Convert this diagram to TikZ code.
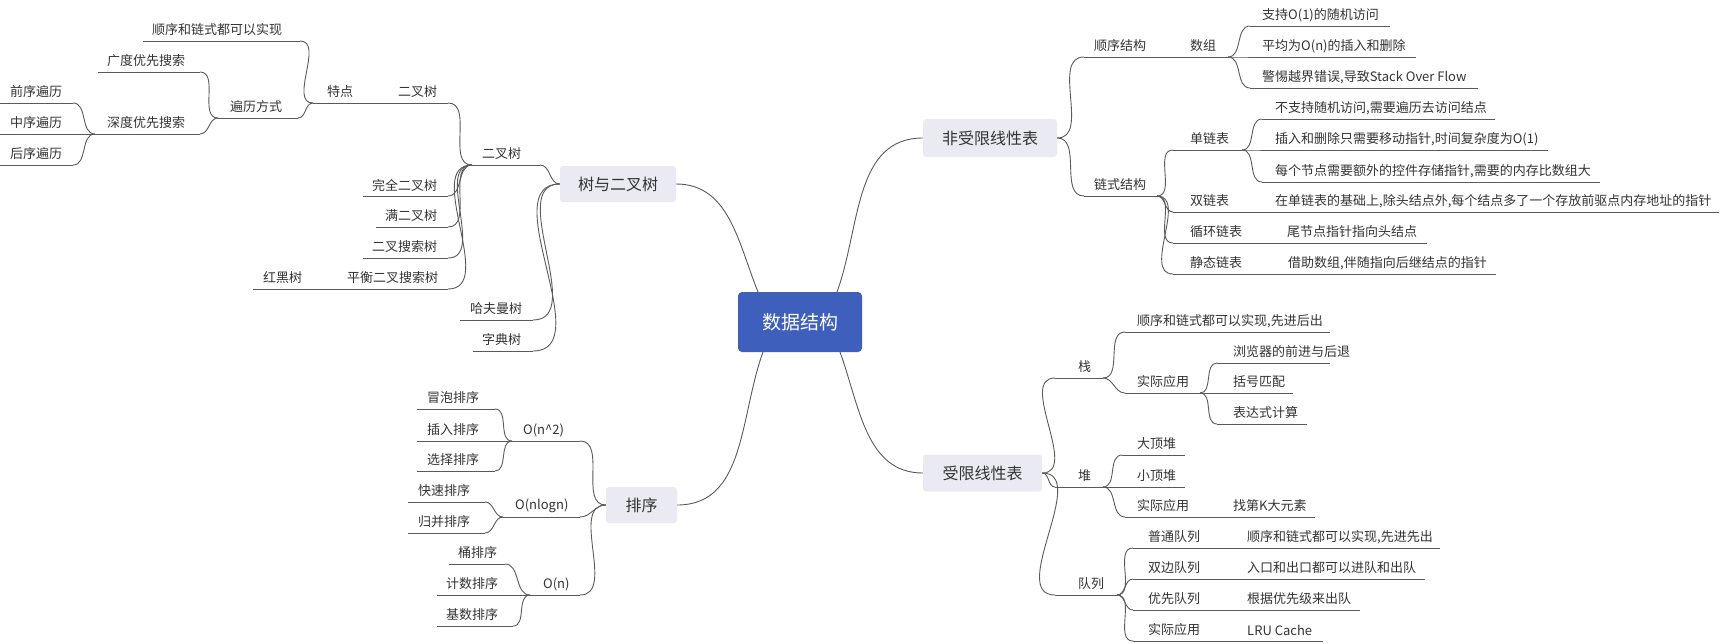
\documentclass[tikz,border=0pt]{standalone}
\usepackage{fontspec}
\setmainfont{Noto Sans CJK SC}
\definecolor{ln}{HTML}{5A5A5A}
\definecolor{tx}{HTML}{333333}
\definecolor{boxg}{HTML}{EAEAF2}
\definecolor{boxb}{HTML}{3F5FBD}
\tikzset{
 lnst/.style={draw=ln,line width=0.9pt},
 txt/.style={anchor=west,inner sep=0pt,text=tx,font=\fontsize{13}{13}\selectfont},
 mainbox/.style={fill=boxg,rounded corners=3pt,text=tx,font=\fontsize{16}{16}\selectfont,inner sep=0pt},
 rr/.style={lnst,out=0,in=180},
 ll/.style={lnst,out=180,in=0},
}
\newcommand\tp[6]{%
 \coordinate (#1-l) at (#2,#4); \coordinate (#1-r) at (#3,#4);
 \draw[lnst] (#1-l) -- (#1-r);
 \node[txt] (#1) at (#5,#4-11) {#6};}
\begin{document}
\begin{tikzpicture}[x=1pt,y=-1pt]
\useasboundingbox (0,0) rectangle (1720,643);
% center
\node[fill=boxb,rounded corners=4pt,minimum width=124pt,minimum height=60pt,text=white,font=\fontsize{19}{19}\selectfont] (ds) at (800,322) {数据结构};
\node[mainbox,minimum width=116pt,minimum height=36pt] (tree) at (618,184) {树与二叉树};
\node[mainbox,minimum width=71pt,minimum height=36pt] (sort) at (641.5,505) {排序};
\node[mainbox,minimum width=134pt,minimum height=38pt] (fsx) at (990,138) {非受限线性表};
\node[mainbox,minimum width=119pt,minimum height=37pt] (sx) at (982.5,473) {受限线性表};
\coordinate (c1) at (758,292); \coordinate (c2) at (837,292);
\coordinate (c3) at (763,352); \coordinate (c4) at (840,352);
\draw[lnst] (tree.east) to[out=0,in=112] (c1);
\draw[lnst] (sort.east) to[out=0,in=-110] (c3);
\draw[lnst] (fsx.west) to[out=180,in=70] (c2);
\draw[lnst] (sx.west) to[out=180,in=-70] (c4);
% tree
\tp{bt}{472}{540}{165}{482}{二叉树}
\tp{hfm}{460}{533}{320}{470}{哈夫曼树}
\tp{zd}{473}{533}{351}{482}{字典树}
\tp{btt}{380}{448}{103}{398}{二叉树}
\tp{td}{313}{380}{103}{327}{特点}
\tp{wq}{363}{448}{196}{372}{完全二叉树}
\tp{man}{376}{448}{227}{385}{满二叉树}
\tp{bst}{363}{448}{258}{372}{二叉搜索树}
\tp{avl}{335}{448}{289}{347}{平衡二叉搜索树}
\tp{rb}{253}{335}{289}{263}{红黑树}
\tp{sxl}{143}{300}{41}{152}{顺序和链式都可以实现}
\tp{bl}{218}{298}{118}{230}{遍历方式}
\tp{gd}{98}{200}{72}{107}{广度优先搜索}
\tp{sd}{95}{200}{134}{107}{深度优先搜索}
\tp{qx}{0}{73}{103}{10}{前序遍历}
\tp{zx}{0}{95}{134}{10}{中序遍历}
\tp{hx}{0}{73}{165}{10}{后序遍历}
\foreach \c in {bt,hfm,zd} \draw[ll] (tree.west) to (\c-r);
\foreach \c in {btt,wq,man,bst,avl} \draw[ll] (bt-l) to (\c-r);
\foreach \c in {sxl,bl} \draw[ll] (td-l) to (\c-r);
\foreach \c in {gd,sd} \draw[ll] (bl-l) to (\c-r);
\foreach \c in {qx,hx} \draw[ll] (sd-l) to (\c-r);
% sort
\tp{otwo}{512}{580}{441}{523}{O(n\textasciicircum 2)}
\tp{onl}{503}{580}{517}{515}{O(nlogn)}
\tp{on}{530}{580}{595}{543}{O(n)}
\tp{mp}{417}{495}{409}{427}{冒泡排序}
\tp{cr}{417}{512}{441}{427}{插入排序}
\tp{xz}{417}{495}{471}{427}{选择排序}
\tp{ks}{408}{485}{502}{418}{快速排序}
\tp{gb}{408}{485}{533}{418}{归并排序}
\tp{tong}{449}{505}{564}{458}{桶排序}
\tp{js}{437}{530}{595}{446}{计数排序}
\tp{jsu}{437}{513}{626}{446}{基数排序}
\foreach \c in {otwo,onl,on} \draw[ll] (sort.west) to (\c-r);
\foreach \c in {mp,xz} \draw[ll] (otwo-l) to (\c-r);
\foreach \c in {ks,gb} \draw[ll] (onl-l) to (\c-r);
\foreach \c in {tong,jsu} \draw[ll] (on-l) to (\c-r);
% non-limited
\tp{sxjg}{1084}{1160}{57}{1094}{顺序结构}
\tp{sz}{1160}{1228}{57}{1190}{数组}
\tp{lsjg}{1084}{1157}{196}{1094}{链式结构}
\tp{aone}{1250}{1390}{26}{1262}{支持O(1)的随机访问}
\tp{atwo}{1250}{1416}{57}{1262}{平均为O(n)的插入和删除}
\tp{athree}{1250}{1478}{88}{1262}{警惕越界错误,导致Stack Over Flow}
\tp{dlb}{1173}{1242}{150}{1190}{单链表}
\tp{sone}{1262}{1495}{119}{1275}{不支持随机访问,需要遍历去访问结点}
\tp{stwo}{1262}{1548}{150}{1275}{插入和删除只需要移动指针,时间复杂度为O(1)}
\tp{sthree}{1262}{1600}{182}{1275}{每个节点需要额外的控件存储指针,需要的内存比数组大}
\tp{slb}{1173}{1262}{212}{1190}{双链表}
\tp{done}{1262}{1719}{212}{1275}{在单链表的基础上,除头结点外,每个结点多了一个存放前驱点内存地址的指针}
\tp{xh}{1173}{1275}{243}{1190}{循环链表}
\tp{xone}{1275}{1427}{243}{1287}{尾节点指针指向头结点}
\tp{jt}{1173}{1275}{274}{1190}{静态链表}
\tp{jone}{1275}{1496}{274}{1288}{借助数组,伴随指向后继结点的指针}
\foreach \c in {sxjg,lsjg} \draw[rr] (fsx.east) to (\c-l);
\foreach \c in {aone,atwo,athree} \draw[rr] (sz-r) to (\c-l);
\foreach \c in {dlb,slb,xh,jt} \draw[rr] (lsjg-r) to (\c-l);
\foreach \c in {sone,stwo,sthree} \draw[rr] (dlb-r) to (\c-l);
% limited
\tp{zhan}{1055}{1103}{378}{1078}{栈}
\tp{zone}{1125}{1330}{332}{1137}{顺序和链式都可以实现,先进后出}
\tp{zyy}{1125}{1200}{393}{1137}{实际应用}
\tp{bone}{1217}{1330}{363}{1233}{浏览器的前进与后退}
\tp{btwo}{1200}{1293}{393}{1233}{括号匹配}
\tp{bthree}{1217}{1307}{424}{1233}{表达式计算}
\tp{dui}{1055}{1103}{487}{1078}{堆}
\tp{dd}{1122}{1185}{455}{1137}{大顶堆}
\tp{xd}{1103}{1185}{487}{1137}{小顶堆}
\tp{dyy}{1125}{1220}{517}{1137}{实际应用}
\tp{kone}{1220}{1315}{517}{1233}{找第K大元素}
\tp{dl}{1055}{1117}{595}{1078}{队列}
\tp{qone}{1133}{1235}{548}{1148}{普通队列}
\tp{qoneb}{1235}{1440}{548}{1247}{顺序和链式都可以实现,先进先出}
\tp{qtwo}{1133}{1235}{579}{1148}{双边队列}
\tp{qtwob}{1235}{1425}{579}{1247}{入口和出口都可以进队和出队}
\tp{qthree}{1133}{1235}{610}{1148}{优先队列}
\tp{qthreeb}{1235}{1360}{610}{1247}{根据优先级来出队}
\tp{qfour}{1133}{1235}{641}{1148}{实际应用}
\tp{qfourb}{1235}{1323}{641}{1247}{LRU Cache}
\foreach \c in {zhan,dui,dl} \draw[rr] (sx.east) to (\c-l);
\foreach \c in {zone,zyy} \draw[rr] (zhan-r) to (\c-l);
\foreach \c in {bone,bthree} \draw[rr] (zyy-r) to (\c-l);
\foreach \c in {dd,dyy} \draw[rr] (dui-r) to (\c-l);
\foreach \c in {qone,qtwo,qthree,qfour} \draw[rr] (dl-r) to (\c-l);
\end{tikzpicture}
\end{document}
